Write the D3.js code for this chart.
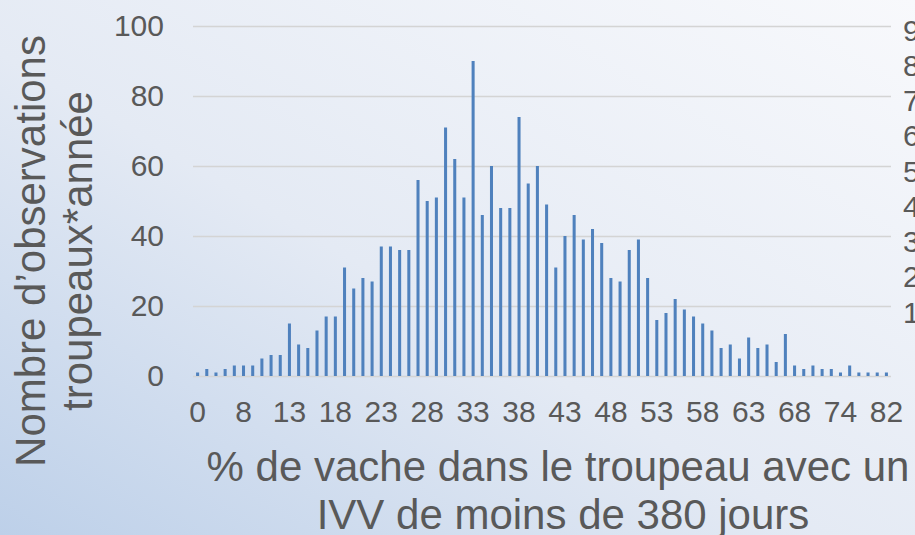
<!DOCTYPE html>
<html>
<head>
<meta charset="utf-8">
<script src="https://cdn.jsdelivr.net/npm/d3@7"></script>
<style>
  html, body { margin: 0; padding: 0; overflow: hidden; }
  text { font-family: 'Liberation Sans', Arial, sans-serif; fill: #595959; }
</style>
</head>
<body>
<div id="chart"></div>
<script>
// % of cows in the herd (category values shown on the x axis)
const categories = [
  0, 1, 3, 5, 6,
  8, 9, 10, 11, 12, 13, 14, 15, 16, 17, 18, 19, 20, 21, 22, 23, 24, 25, 26, 27, 28,
  29, 30, 31, 32, 33, 34, 35, 36, 37, 38, 39, 40, 41, 42, 43, 44, 45, 46, 47, 48,
  49, 50, 51, 52, 53, 54, 55, 56, 57, 58, 59, 60, 61, 62, 63, 64, 65, 66, 67, 68,
  69, 70, 71, 72, 74, 75, 77, 78, 80, 82,
]
// number of herd*year observations per category
const counts = [
  1, 2, 1, 2, 3, 3, 3, 5, 6, 6, 15, 9, 8, 13, 17, 17, 31, 25, 28, 27, 37, 37, 36, 36, 56,
  50, 51, 71, 62, 51, 90, 46, 60, 48, 48, 74, 55, 60, 49, 31, 40, 46, 39, 42, 38, 28, 27,
  36, 39, 28, 16, 18, 22, 19, 17, 15, 13, 8, 9, 5, 11, 8, 9, 4, 12, 3, 2, 3, 2, 2, 1, 3,
  1, 1, 1, 1,
]
const yTicks = [0, 20, 40, 60, 80, 100]
// secondary axis, cut off at the right edge of the picture
const rightTicks = [90, 80, 70, 60, 50, 40, 30, 20, 10]

const data = categories.map((c, i) => ({ cat: c, value: counts[i] }))

const width = 915
const height = 535
const plot = { left: 193, right: 891, top: 26, bottom: 376 }

const svg = d3
  .select('#chart')
  .append('svg')
  .attr('width', width)
  .attr('height', height)

// background gradient
const grad = svg
  .append('defs')
  .append('linearGradient')
  .attr('id', 'bg')
  .attr('x1', '0')
  .attr('y1', '1')
  .attr('x2', '1')
  .attr('y2', '0')
grad.append('stop').attr('offset', '0%').attr('stop-color', '#bdd0e9')
grad.append('stop').attr('offset', '45%').attr('stop-color', '#e4eaf4')
grad.append('stop').attr('offset', '100%').attr('stop-color', '#f8f9fc')
svg.append('rect').attr('width', width).attr('height', height).attr('fill', 'url(#bg)')

const x = d3
  .scaleBand()
  .domain(data.map((d) => d.cat))
  .range([plot.left, plot.right])
  .paddingInner(0.67)
  .paddingOuter(0.335)

const y = d3.scaleLinear().domain([0, 100]).range([plot.bottom, plot.top])

// gridlines + left axis labels
const yAxis = svg
  .append('g')
  .attr('transform', `translate(${plot.left},0)`)
  .call(
    d3
      .axisLeft(y)
      .tickValues(yTicks)
      .tickSize(-(plot.right - plot.left))
      .tickPadding(29),
  )
yAxis.select('.domain').remove()
yAxis.selectAll('.tick line').attr('stroke', '#d4d4d4').attr('stroke-width', 1.4)
yAxis.selectAll('text').style('font-size', '30px').attr('fill', '#595959')

// bars
svg
  .append('g')
  .selectAll('rect')
  .data(data)
  .join('rect')
  .attr('x', (d) => x(d.cat))
  .attr('y', (d) => y(d.value))
  .attr('width', x.bandwidth())
  .attr('height', (d) => y(0) - y(d.value))
  .attr('fill', '#4f81bd')

// x axis labels, every 5th category
const xAxis = svg
  .append('g')
  .attr('transform', `translate(0,${plot.bottom})`)
  .call(
    d3
      .axisBottom(x)
      .tickValues(categories.filter((d, i) => i % 5 === 0))
      .tickSize(0)
      .tickPadding(25),
  )
xAxis.select('.domain').remove()
xAxis.selectAll('text').style('font-size', '30px').attr('fill', '#595959')

// right axis labels (cut by the picture edge, as in the original)
const yRight = d3.scaleLinear().domain([10, 90]).range([312, 30])
svg
  .append('g')
  .selectAll('text')
  .data(rightTicks)
  .join('text')
  .attr('x', 903)
  .attr('y', (d) => yRight(d))
  .attr('dy', '0.35em')
  .style('font-size', '30px')
  .text((d) => d)

// axis titles
const yTitle = svg
  .append('text')
  .attr('transform', 'translate(45,251) rotate(-90)')
  .attr('text-anchor', 'middle')
  .style('font-size', '42px')
yTitle.append('tspan').attr('x', 0).attr('y', 0).text('Nombre d’observations')
yTitle.append('tspan').attr('x', 0).attr('y', 47).text('troupeaux*année')

const xTitle = svg
  .append('text')
  .attr('text-anchor', 'middle')
  .style('font-size', '42px')
xTitle.append('tspan').attr('x', 558).attr('y', 481).text('% de vache dans le troupeau avec un')
xTitle.append('tspan').attr('x', 563).attr('y', 529).text('IVV de moins de 380 jours')
</script>
</body>
</html>
